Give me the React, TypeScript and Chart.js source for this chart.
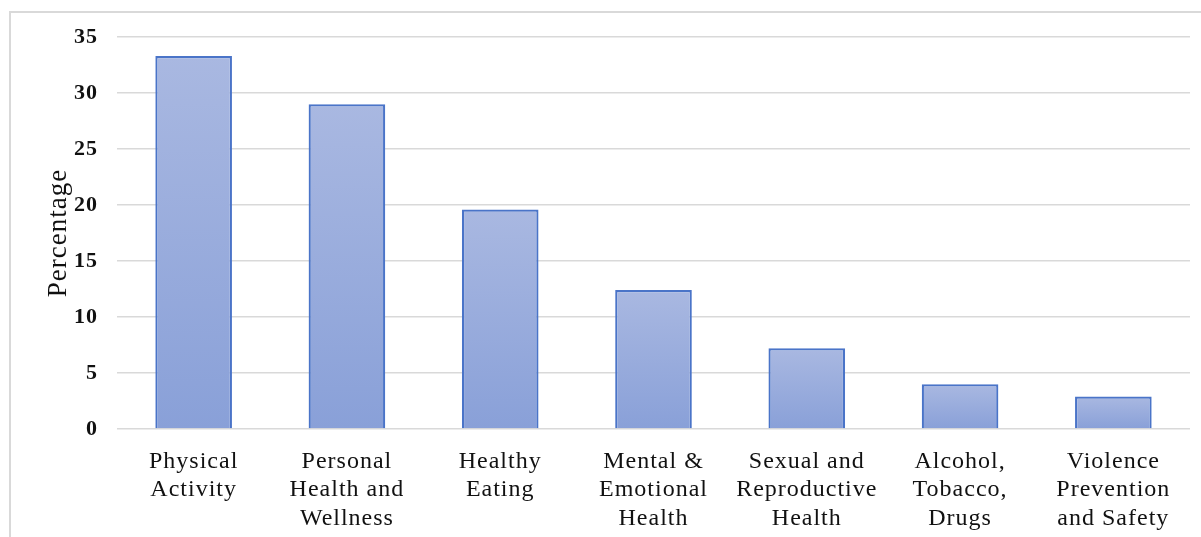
import React, { useEffect, useRef } from "react";
import { Chart, registerables } from "chart.js";

Chart.register(...registerables);

// Share of responses per health topic
const categories: string[][] = [
  ["Physical", "Activity"],
  ["Personal", "Health and", "Wellness"],
  ["Healthy", "Eating"],
  ["Mental &", "Emotional", "Health"],
  ["Sexual and", "Reproductive", "Health"],
  ["Alcohol,", "Tobacco,", "Drugs"],
  ["Violence", "Prevention", "and Safety"],
];
const percentages: number[] = [33.3, 29.0, 19.6, 12.4, 7.2, 4.0, 2.9];

const yMin = 0;
const yMax = 35;
const yStep = 5;
const yTitle = "Percentage";

const FONT = "'Liberation Serif', 'Times New Roman', serif";

// Slight tracking on all canvas text, applied after every canvas reset
const spacingPlugin = {
  id: "letterSpacing",
  beforeLayout(chart: Chart) {
    (chart.ctx as any).letterSpacing = "1px";
  },
  beforeDraw(chart: Chart) {
    (chart.ctx as any).letterSpacing = "1px";
  },
};

// Thin frame around the chart (top and left edges visible)
const framePlugin = {
  id: "frame",
  beforeDraw(chart: Chart) {
    const ctx = chart.ctx;
    ctx.save();
    ctx.strokeStyle = "#d9d9d9";
    ctx.lineWidth = 2;
    ctx.beginPath();
    ctx.moveTo(10, chart.height + 5);
    ctx.lineTo(10, 12);
    ctx.lineTo(chart.width + 5, 12);
    ctx.stroke();
    ctx.restore();
  },
};

export default function App() {
  const canvasRef = useRef<HTMLCanvasElement | null>(null);

  useEffect(() => {
    document.body.style.margin = "0";
    const canvas = canvasRef.current;
    if (!canvas) return;

    const chart = new Chart(canvas, {
      type: "bar",
      data: {
        labels: categories,
        datasets: [
          {
            data: percentages,
            backgroundColor: (ctx: any) => {
              const c = ctx.chart;
              const yScale = c.scales?.y;
              if (!c.chartArea || !yScale || ctx.type !== "data") return "#9aaedd";
              const top = yScale.getPixelForValue(ctx.raw);
              const bottom = yScale.getPixelForValue(0);
              if (!isFinite(top) || !isFinite(bottom) || top === bottom) return "#9aaedd";
              const g = c.ctx.createLinearGradient(0, top, 0, bottom);
              g.addColorStop(0, "#a9b8e1");
              g.addColorStop(1, "#89a0d8");
              return g;
            },
            borderColor: "#4a74c8",
            borderWidth: 2.2,
            barPercentage: 0.5,
            categoryPercentage: 1,
          },
        ],
      },
      options: {
        animation: false,
        responsive: true,
        maintainAspectRatio: false,
        layout: { padding: { top: 37, right: 11, left: 0, bottom: 0 } },
        plugins: {
          legend: { display: false },
          tooltip: { enabled: false },
        },
        scales: {
          x: {
            grid: { display: false, drawTicks: false },
            border: { display: false },
            ticks: {
              padding: 18,
              maxRotation: 0,
              autoSkip: false,
              color: "#111111",
              font: { family: FONT, size: 24, lineHeight: 1.2 },
            },
            afterFit: (scale: any) => {
              scale.height = 108;
            },
          },
          y: {
            min: yMin,
            max: yMax,
            border: { display: false },
            grid: { color: "#d9d9d9", lineWidth: 1.5, drawTicks: false },
            ticks: {
              stepSize: yStep,
              padding: 19,
              color: "#111111",
              font: { family: FONT, size: 22, weight: "bold" },
            },
            title: {
              display: true,
              text: yTitle,
              color: "#111111",
              padding: { top: 43, bottom: 0 },
              font: { family: FONT, size: 27 },
            },
            afterFit: (scale: any) => {
              scale.width = 117;
            },
          },
        },
      },
      plugins: [spacingPlugin, framePlugin],
    });

    return () => chart.destroy();
  }, []);

  return (
    <div style={{ position: "fixed", left: 0, top: 0, width: 1201, height: 537, background: "#fff" }}>
      <canvas ref={canvasRef} />
    </div>
  );
}
